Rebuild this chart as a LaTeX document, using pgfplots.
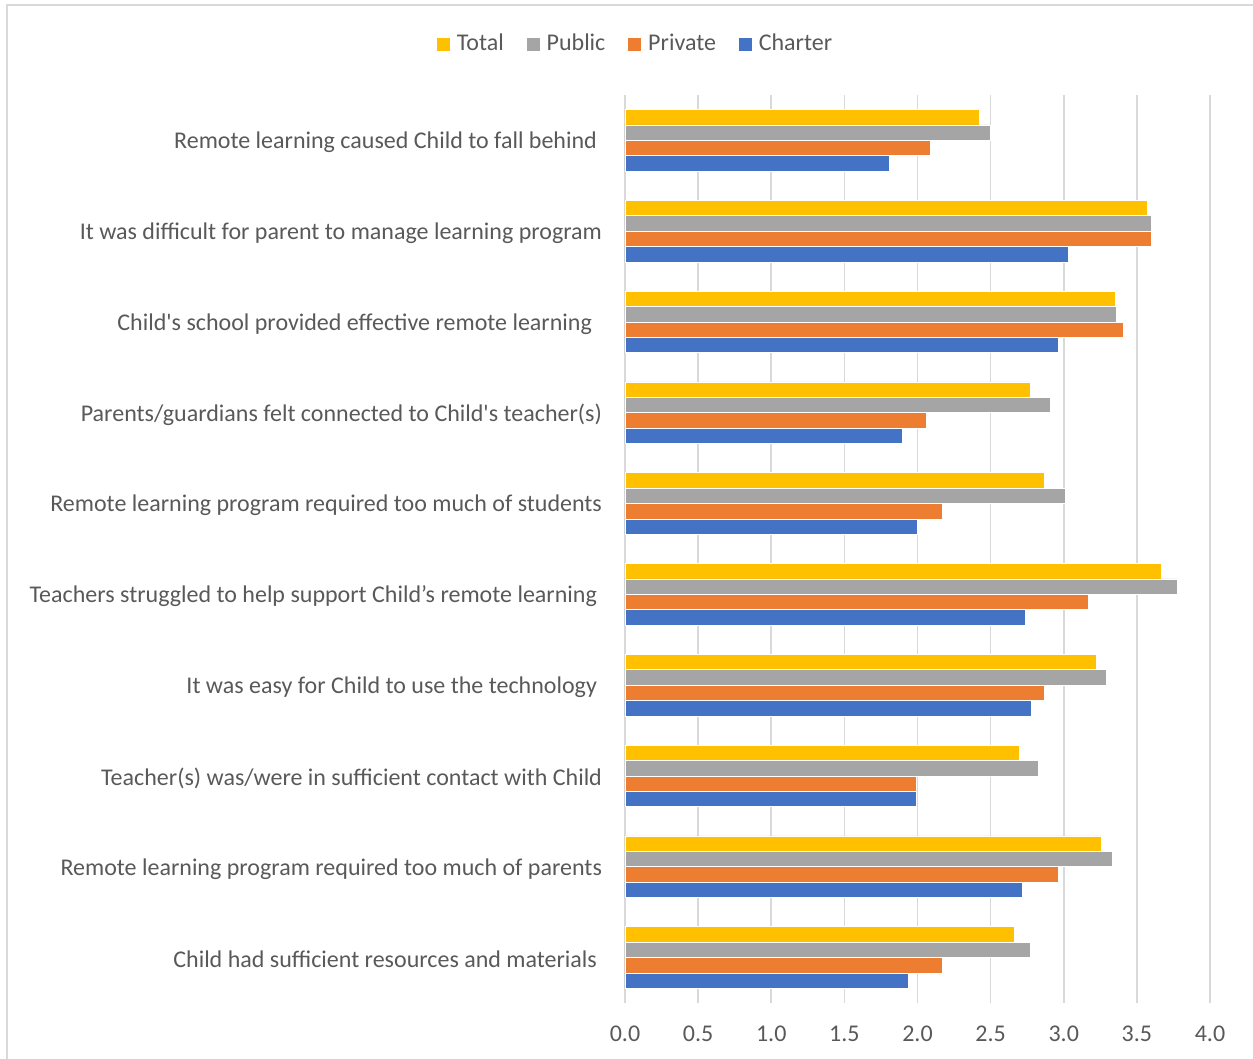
\documentclass[border=0pt]{standalone}
\usepackage{pgfplots}
\pgfplotsset{compat=1.18}
\usepackage{fontspec}
\setmainfont{Carlito}
\definecolor{cTotal}{HTML}{FFC000}
\definecolor{cPublic}{HTML}{A5A5A5}
\definecolor{cPrivate}{HTML}{ED7D31}
\definecolor{cCharter}{HTML}{4472C4}
\definecolor{gridc}{HTML}{D9D9D9}
\definecolor{txt}{HTML}{595959}
\begin{document}
\begin{tikzpicture}[font=\fontsize{12}{14}\selectfont]
\path[use as bounding box] (0,0) rectangle (626.5pt,529.5pt);
\draw[gridc, line width=0.8pt] (3.5pt,0) -- (3.5pt,527pt) -- (626.5pt,527pt);
\begin{axis}[
  at={(312.5pt,28pt)}, anchor=south west,
  scale only axis, width=292.5pt, height=454pt,
  xbar, bar width=0.17,
  xmin=0, xmax=4, ymin=-0.5, ymax=9.5, y dir=reverse,
  xtick={0,0.5,...,4},
  /pgf/number format/fixed, /pgf/number format/fixed zerofill,
  /pgf/number format/precision=1, /pgf/number format/assume math mode=true,
  xticklabel style={text=txt, yshift=-8pt},
  ytick={0,...,9},
  yticklabels={
    Remote learning caused Child to fall behind\hspace*{2.5pt},
    It was difficult for parent to manage learning program,
    Child\textquotesingle s school provided effective remote learning\hspace*{5pt},
    Parents/guardians felt connected to Child\textquotesingle s teacher(s),
    Remote learning program required too much of students,
    Teachers struggled to help support Child’s remote learning\hspace*{2.5pt},
    It was easy for Child to use the technology\hspace*{2.5pt},
    Teacher(s) was/were in sufficient contact with Child,
    Remote learning program required too much of parents,
    Child had sufficient resources and materials\hspace*{2.5pt}},
  yticklabel style={text=txt, xshift=-8pt, yshift=-1pt},
  major tick length=0pt,
  axis line style={draw=none},
  xmajorgrids, major x grid style={gridc, line width=0.8pt},
  legend columns=4,
  legend style={draw=none, fill=none, at={(rel axis cs:0.019,1.056)}, anchor=center,
    text=txt, font=\fontsize{12}{14}\selectfont,
    /tikz/every even column/.append style={column sep=9pt},
    inner sep=0pt},
  legend image code/.code={\fill[#1] (0pt,-3.5pt) rectangle (7pt,3.5pt);\path (8pt,0pt);},
  every axis plot/.append style={draw=white, line width=0.4pt},
]
\addplot[fill=cTotal, bar shift=-0.255] coordinates {
 (2.42,0) (3.57,1) (3.35,2) (2.77,3) (2.87,4) (3.67,5) (3.22,6) (2.70,7) (3.26,8) (2.66,9)};
\addplot[fill=cPublic, bar shift=-0.085] coordinates {
 (2.50,0) (3.60,1) (3.36,2) (2.91,3) (3.01,4) (3.78,5) (3.29,6) (2.83,7) (3.33,8) (2.77,9)};
\addplot[fill=cPrivate, bar shift=0.085] coordinates {
 (2.09,0) (3.60,1) (3.41,2) (2.06,3) (2.17,4) (3.17,5) (2.87,6) (1.99,7) (2.96,8) (2.17,9)};
\addplot[fill=cCharter, bar shift=0.255] coordinates {
 (1.81,0) (3.03,1) (2.96,2) (1.90,3) (2.00,4) (2.74,5) (2.78,6) (1.99,7) (2.72,8) (1.94,9)};
\legend{Total, Public, Private, Charter}
\end{axis}
\end{tikzpicture}
\end{document}
